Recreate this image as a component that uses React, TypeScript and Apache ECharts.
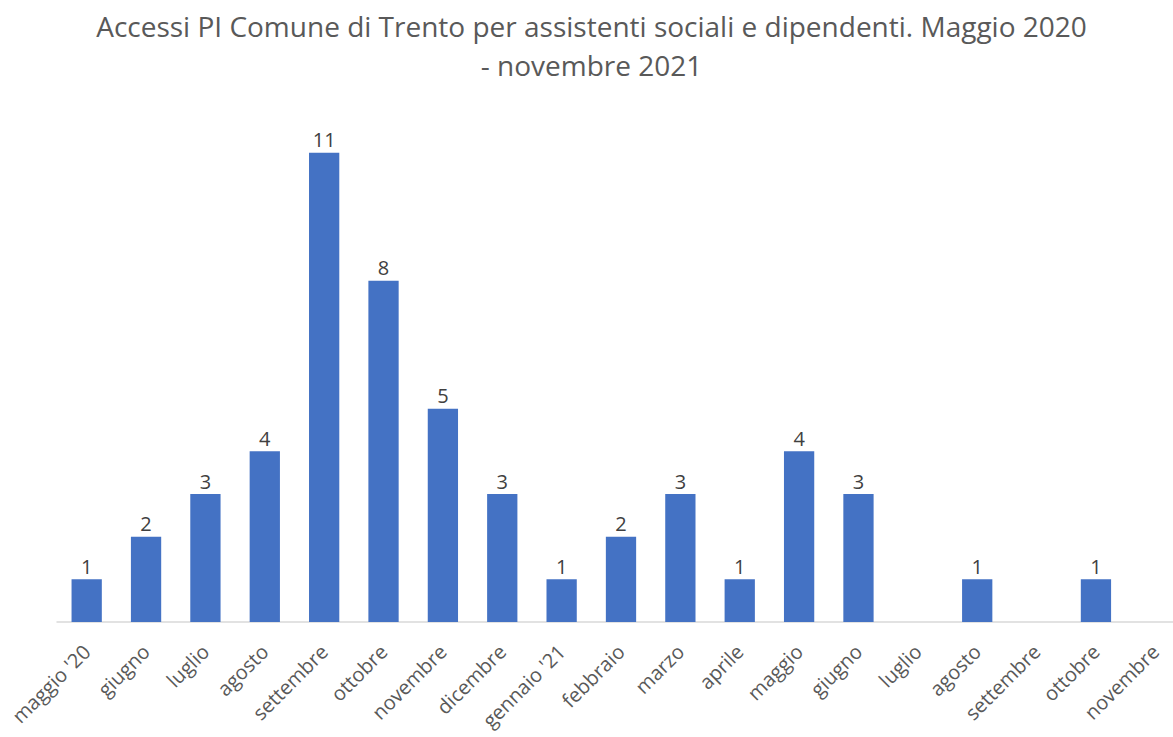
import React, { useEffect, useRef } from "react";
import * as echarts from "echarts";

const categories = [
  "maggio '20", "giugno", "luglio", "agosto", "settembre", "ottobre", "novembre",
  "dicembre", "gennaio '21", "febbraio", "marzo", "aprile", "maggio", "giugno",
  "luglio", "agosto", "settembre", "ottobre", "novembre",
];
const accessi: (number | null)[] = [1, 2, 3, 4, 11, 8, 5, 3, 1, 2, 3, 1, 4, 3, null, 1, null, 1, null];
const titleLines = [
  "Accessi PI Comune di Trento per assistenti sociali e dipendenti. Maggio 2020",
  "- novembre 2021",
];

export default function App() {
  const ref = useRef<HTMLDivElement>(null);
  useEffect(() => {
    document.body.style.margin = "0";
    const chart = echarts.init(ref.current!, undefined, { renderer: "svg" });
    const titleStyle = { fontFamily: "Open Sans", fontSize: 28, fontWeight: "normal", color: "#595959" };
    chart.setOption({
      animation: false,
      backgroundColor: "#ffffff",
      textStyle: { fontFamily: "Open Sans" },
      title: [
        { text: titleLines[0], left: 586.5, textAlign: "center", top: 7, textStyle: titleStyle },
        { text: titleLines[1], left: 586.5, textAlign: "center", top: 46, textStyle: titleStyle },
      ],
      grid: { left: 57, right: 0, top: 110, bottom: 115, containLabel: false },
      xAxis: {
        type: "category",
        data: categories,
        axisLine: { lineStyle: { color: "#d9d9d9", width: 1.5 } },
        axisTick: { show: false },
        axisLabel: { rotate: 45, interval: 0, color: "#595959", fontSize: 20, fontFamily: "Open Sans", margin: 26 },
      },
      yAxis: { type: "value", min: 0, max: 12, show: false, splitLine: { show: false } },
      series: [
        {
          type: "bar",
          data: accessi,
          barCategoryGap: "49%",
          itemStyle: { color: "#4472C4" },
          label: { show: true, position: "top", distance: 3, color: "#404040", fontSize: 20, fontFamily: "Open Sans" },
        },
      ],
    });
    return () => chart.dispose();
  }, []);
  return (
    <div style={{ width: 1173, height: 737, overflow: "hidden", position: "relative" }}>
      <div ref={ref} style={{ width: 1185, height: 737 }} />
    </div>
  );
}
